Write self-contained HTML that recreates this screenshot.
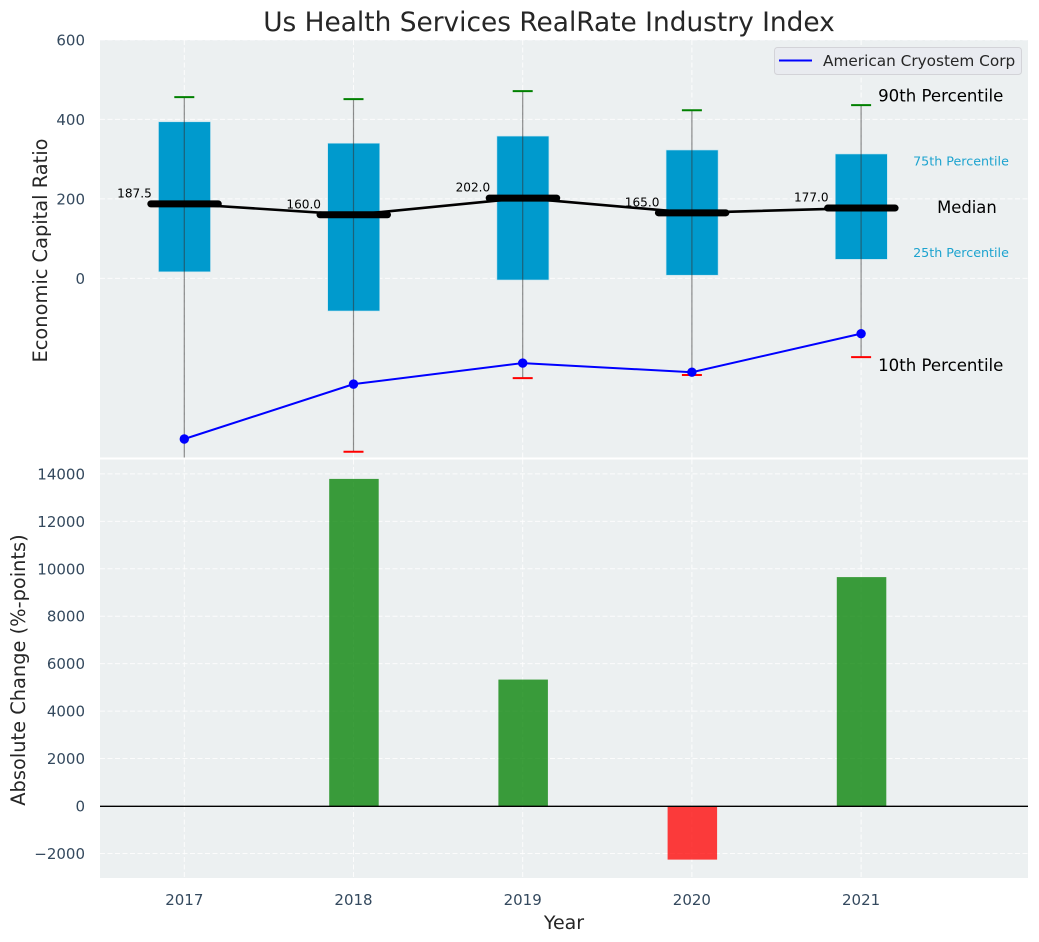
<!DOCTYPE html>
<html lang="en">
<head>
<meta charset="utf-8">
<title>Us Health Services RealRate Industry Index</title>
<style>
html,body{margin:0;padding:0;background:#fff;width:1039px;height:942px;overflow:hidden}
svg{display:block}
text{font-family:"DejaVu Sans","Liberation Sans",sans-serif}
</style>
</head>
<body>
<svg id="chart" xmlns="http://www.w3.org/2000/svg" width="1039" height="942" viewBox="0 0 1039 942">
  <defs>
    <clipPath id="clip-top"><rect x="100" y="40" width="928" height="417.5"/></clipPath>
    <clipPath id="clip-bottom"><rect x="100" y="459.5" width="928" height="418.5"/></clipPath>
  </defs>
  <rect x="100" y="40" width="928" height="417.5" fill="#ecf0f1"/>
  <rect x="100" y="459.5" width="928" height="418.5" fill="#ecf0f1"/>
  <g id="top-grid"></g>
  <g id="bottom-grid"></g>
  <g id="top-marks" clip-path="url(#clip-top)"></g>
  <g id="bottom-marks" clip-path="url(#clip-bottom)"></g>
  <g id="labels"></g>
  <text x="549" y="31" text-anchor="middle" font-size="26.4" fill="#262626">Us Health Services RealRate Industry Index</text>
  <text transform="translate(47,250.5) rotate(-90)" text-anchor="middle" font-size="19.4" fill="#262626">Economic Capital Ratio</text>
  <text transform="translate(25,670) rotate(-90)" text-anchor="middle" font-size="19.4" fill="#262626">Absolute Change (%-points)</text>
  <text x="564" y="929" text-anchor="middle" font-size="19" fill="#262626">Year</text>
  <g>
    <rect x="774.5" y="47.5" width="247" height="27" rx="3" fill="#e9ebf0" stroke="#d3d3d8" stroke-width="1"/>
    <line x1="779" y1="60.5" x2="812" y2="60.5" stroke="#0000ff" stroke-width="2"/>
    <text x="823" y="66" font-size="15.3" fill="#262626">American Cryostem Corp</text>
  </g>
</svg>
<script>
const years = [2017, 2018, 2019, 2020, 2021];
const p90 = [456, 451, 471, 423, 436];
const p75 = [394, 340, 358, 323, 313];
const medians = [187.5, 160.0, 202.0, 165.0, 177.0];
const p25 = [16.6, -82, -4, 8, 48];
const p10 = [-520, -436, -251, -243, -198];
const companyValues = [-404, -266, -213, -236, -139];
const absoluteChange = [0, 13790, 5330, -2260, 9650];
const topTicks = [0, 200, 400, 600];
const bottomTicks = [-2000, 0, 2000, 4000, 6000, 8000, 10000, 12000, 14000];

const NS = 'http://www.w3.org/2000/svg';
const xPos = v => 184.3 + (v - 2017) * 169.2;
const yTop = v => 278.4 - v * 0.3975;
const yBottom = v => 806 - v * 0.02372;

function mk(parent, tag, attrs, txt) {
  const el = document.createElementNS(NS, tag);
  for (const k in attrs) el.setAttribute(k, attrs[k]);
  if (txt !== undefined) el.textContent = txt;
  document.getElementById(parent).appendChild(el);
  return el;
}
const dash = {stroke: '#ffffff', 'stroke-width': 1, 'stroke-dasharray': '5 2.5', opacity: 0.85};
const tickColor = '#34495e';

topTicks.forEach(t => {
  const g = mk('top-grid', 'line', {x1: 100, x2: 1028, y1: yTop(t), y2: yTop(t), ...dash});
  
  
  const l = mk('labels', 'text', {x: 85, y: yTop(t) + 5.5, 'text-anchor': 'end', 'font-size': 15, fill: tickColor}, String(t));
  
  
});
bottomTicks.forEach(t => {
  const g = mk('bottom-grid', 'line', {x1: 100, x2: 1028, y1: yBottom(t), y2: yBottom(t), ...dash});
  
  
  const l = mk('labels', 'text', {x: 85, y: yBottom(t) + 5.5, 'text-anchor': 'end', 'font-size': 15, fill: tickColor}, String(t).replace('-', '\u2212'));
  
  
});
years.forEach(y => {
  const a = mk('top-grid', 'line', {x1: xPos(y), x2: xPos(y), y1: 40, y2: 457.5, ...dash});
  
  
  const b = mk('bottom-grid', 'line', {x1: xPos(y), x2: xPos(y), y1: 459.5, y2: 878, ...dash});
  
  
  const l = mk('labels', 'text', {x: xPos(y), y: 905, 'text-anchor': 'middle', 'font-size': 15, fill: tickColor}, String(y));
  
  
});

years.forEach((y, i) => {
  const cx = xPos(y);
  const box = mk('top-marks', 'rect', {x: cx - 25.8, y: yTop(p75[i]), width: 52, height: yTop(p25[i]) - yTop(p75[i]), fill: '#009acd', stroke: '#bfe3ef', 'stroke-width': 0.6});
  
  
  const whisk = mk('top-marks', 'line', {x1: cx, x2: cx, y1: yTop(p90[i]), y2: yTop(p10[i]), stroke: '#333333', 'stroke-width': 1.2, opacity: 0.55});
  
  
  const hi = mk('top-marks', 'line', {x1: cx - 10, x2: cx + 10, y1: yTop(p90[i]), y2: yTop(p90[i]), stroke: '#008000', 'stroke-width': 2});
  
  
  const lo = mk('top-marks', 'line', {x1: cx - 10, x2: cx + 10, y1: yTop(p10[i]), y2: yTop(p10[i]), stroke: '#ff0000', 'stroke-width': 2});
  
  
});

const medianPts = years.map((y, i) => xPos(y) + ',' + yTop(medians[i])).join(' ');
const medianLine = mk('top-marks', 'polyline', {points: medianPts, fill: 'none', stroke: '#000000', 'stroke-width': 2.6});



years.forEach((y, i) => {
  const cx = xPos(y);
  const bar = mk('top-marks', 'line', {x1: cx - 33.5, x2: cx + 34, y1: yTop(medians[i]), y2: yTop(medians[i]), stroke: '#000000', 'stroke-width': 7, 'stroke-linecap': 'round'});
  
  
  const txt = mk('top-marks', 'text', {x: cx - 32.5, y: yTop(medians[i]) - 6.5, 'text-anchor': 'end', 'font-size': 12.1, fill: '#000000'}, medians[i].toFixed(1));
  
  
});

const companyPts = years.map((y, i) => xPos(y) + ',' + yTop(companyValues[i])).join(' ');
const companyLine = mk('top-marks', 'polyline', {points: companyPts, fill: 'none', stroke: '#0000ff', 'stroke-width': 2});


years.forEach((y, i) => {
  const pt = mk('top-marks', 'circle', {cx: xPos(y), cy: yTop(companyValues[i]), r: 4.7, fill: '#0000ff'});
  
  
});

const last = years.length - 1;
const lastX = xPos(years[last]);
const a90 = mk('top-marks', 'text', {x: lastX + 17, y: yTop(p90[last]) - 3.5, 'font-size': 16.6, fill: '#000000'}, '90th Percentile');


const a75 = mk('top-marks', 'text', {x: lastX + 52, y: yTop(p75[last]) + 11.5, 'font-size': 12.7, fill: '#1da3cf'}, '75th Percentile');


const aMed = mk('top-marks', 'text', {x: lastX + 76, y: yTop(medians[last]) + 5, 'font-size': 16.4, fill: '#000000'}, 'Median');


const a25 = mk('top-marks', 'text', {x: lastX + 52, y: yTop(p25[last]) - 2.5, 'font-size': 12.7, fill: '#1da3cf'}, '25th Percentile');


const a10 = mk('top-marks', 'text', {x: lastX + 17, y: yTop(p10[last]) + 14, 'font-size': 16.6, fill: '#000000'}, '10th Percentile');



years.forEach((y, i) => {
  const v = absoluteChange[i];
  const top = Math.min(yBottom(v), yBottom(0));
  const bar = mk('bottom-marks', 'rect', {x: xPos(y) - 24.3, y: top, width: 49.5, height: Math.abs(yBottom(v) - yBottom(0)), fill: v >= 0 ? '#008000' : '#ff0000', opacity: 0.76});
  
  
});
const zero = mk('bottom-marks', 'line', {x1: 100, x2: 1028, y1: yBottom(0) + 0.3, y2: yBottom(0) + 0.3, stroke: '#000000', 'stroke-width': 1.4});


</script>
</body>
</html>
